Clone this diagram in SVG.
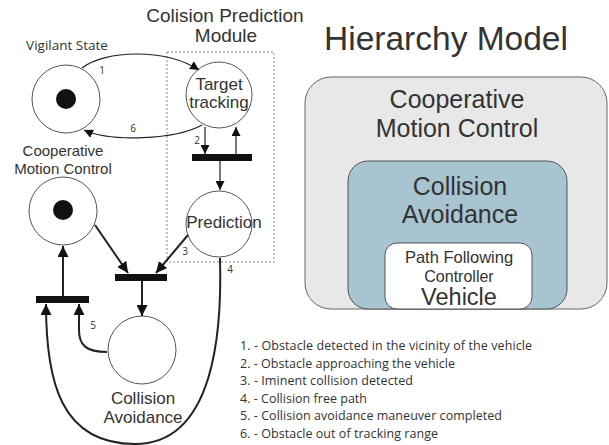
<svg xmlns="http://www.w3.org/2000/svg" width="609" height="445" viewBox="0 0 609 445">
  <style>
    .place { fill: #ffffff; stroke: #555555; stroke-width: 1; }
    .token { fill: #111111; }
    .bar { fill: #111111; }
    .thin { fill: none; stroke: #222222; stroke-width: 1.2; }
    .thick { fill: none; stroke: #222222; stroke-width: 2; }
    .title { font-family: "Liberation Sans", Arial, sans-serif; fill: #333333; text-anchor: middle; }
    .cal { font-family: "Open Sans", "Liberation Sans", sans-serif; fill: #333333; }
    .num { font-family: "Open Sans", "Liberation Sans", sans-serif; fill: #333333; font-size: 10px; text-anchor: middle; }
  </style>
  <defs>
    <marker id="arrow" viewBox="0 0 10 10" refX="10" refY="5" markerWidth="9" markerHeight="9" markerUnits="userSpaceOnUse" orient="auto">
      <path d="M0,0 L10,5 L0,10 z" fill="#111111"/>
    </marker>
    <marker id="arrowBig" viewBox="0 0 10 10" refX="10" refY="5" markerWidth="11" markerHeight="11" markerUnits="userSpaceOnUse" orient="auto">
      <path d="M0,0 L10,5 L0,10 z" fill="#111111"/>
    </marker>
  </defs>

  <rect width="609" height="445" fill="#ffffff"/>

  <!-- Collision prediction module frame -->
  <g id="prediction-module">
    <rect x="167" y="52" width="107" height="210" fill="none" stroke="#888888" stroke-width="1" stroke-dasharray="2,2"/>
    <text class="title" x="225" y="22" font-size="19">Colision Prediction</text>
    <text class="title" x="226" y="42" font-size="19">Module</text>
  </g>

  <!-- Places -->
  <g id="vigilant-state">
    <circle class="place" cx="66" cy="99" r="34"/>
    <circle class="token" cx="66" cy="99" r="10"/>
    <text class="cal" x="67" y="50" font-size="13.5" text-anchor="middle">Vigilant State</text>
  </g>

  <g id="target-tracking">
    <circle class="place" cx="219" cy="95" r="33"/>
    <text class="title" x="219" y="90" font-size="17">Target</text>
    <text class="title" x="219" y="108" font-size="17">tracking</text>
  </g>

  <g id="cooperative-motion-control">
    <circle class="place" cx="63" cy="211" r="34"/>
    <circle class="token" cx="63" cy="210" r="10"/>
    <text class="title" x="63" y="156" font-size="15">Cooperative</text>
    <text class="title" x="63" y="174" font-size="15">Motion Control</text>
  </g>

  <g id="prediction">
    <circle class="place" cx="219" cy="224" r="33"/>
    <text class="title" x="224" y="228" font-size="17">Prediction</text>
  </g>

  <g id="collision-avoidance">
    <circle class="place" cx="142" cy="350" r="34"/>
    <text class="title" x="143" y="404" font-size="17">Collision</text>
    <text class="title" x="143" y="423" font-size="17">Avoidance</text>
  </g>

  <!-- Transitions -->
  <g id="t-tracking">
    <rect class="bar" x="192" y="154" width="60" height="7"/>
  </g>
  <g id="t-avoid">
    <rect class="bar" x="115" y="274" width="52" height="7"/>
  </g>
  <g id="t-return">
    <rect class="bar" x="36" y="296" width="53" height="7"/>
  </g>

  <!-- Connectors -->
  <g id="connectors">
    <path class="thin" d="M82,68 C105,50 165,48 199,70" marker-end="url(#arrow)"/>
    <path class="thin" d="M202,125 C175,140 110,142 84,130" marker-end="url(#arrow)"/>
    <path class="thin" d="M205,127 L205,154" marker-end="url(#arrow)"/>
    <path class="thin" d="M236,154 L236,127" marker-end="url(#arrow)"/>
    <path class="thin" d="M220,161 L220,190" stroke="#555555" marker-end="url(#arrow)"/>

    <path class="thick" d="M95,225 L128,273" marker-end="url(#arrowBig)"/>
    <path class="thick" d="M188,235 L156,273" marker-end="url(#arrowBig)"/>
    <path class="thick" d="M142,281 L142,316" marker-end="url(#arrowBig)"/>
    <path class="thick" d="M63,296 L63,246" marker-end="url(#arrowBig)"/>
    <path class="thick" d="M107,352 C86,352 79,345 79,330 L79,304" marker-end="url(#arrowBig)"/>
    <path class="thick" d="M220,258 C222,330 215,444 135,444 C60,444 46,380 46,304" marker-end="url(#arrowBig)"/>

    <text class="num" x="102" y="74">1</text>
    <text class="num" x="197" y="144">2</text>
    <text class="num" x="185" y="255">3</text>
    <text class="num" x="230" y="273">4</text>
    <text class="num" x="93" y="329">5</text>
    <text class="num" x="133" y="132">6</text>
  </g>

  <!-- Legend -->
  <g id="legend" class="cal" font-size="12.5">
    <text x="240" y="350" textLength="292">1. - Obstacle detected in the vicinity of the vehicle</text>
    <text x="240" y="367.5" textLength="215">2. - Obstacle approaching the vehicle</text>
    <text x="240" y="385" textLength="173">3. - Iminent collision detected</text>
    <text x="240" y="402.5" textLength="127">4. - Collision free path</text>
    <text x="240" y="420" textLength="262">5. - Collision avoidance maneuver completed</text>
    <text x="240" y="437.5" textLength="198">6. - Obstacle out of tracking range</text>
  </g>

  <!-- Hierarchy model -->
  <g id="hierarchy-title">
    <text class="title" x="446" y="50" font-size="33.5" fill="#222222">Hierarchy Model</text>
  </g>
  <g id="cmc-layer">
    <rect x="305" y="77" width="302" height="232" rx="26" fill="#e8e8e8" stroke="#666666" stroke-width="1"/>
    <text class="title" x="457" y="108" font-size="25">Cooperative</text>
    <text class="title" x="457" y="137" font-size="25">Motion Control</text>
  </g>
  <g id="ca-layer">
    <rect x="348" y="161" width="219" height="148" rx="20" fill="#a7c4d0" stroke="#555555" stroke-width="1"/>
    <text class="title" x="460" y="195" font-size="25" fill="#222222">Collision</text>
    <text class="title" x="460" y="223" font-size="25" fill="#222222">Avoidance</text>
  </g>
  <g id="pf-layer">
    <rect x="385" y="243" width="147" height="66" rx="12" fill="#ffffff" stroke="#555555" stroke-width="1"/>
    <text class="title" x="459" y="263" font-size="16.5" fill="#222222">Path Following</text>
    <text class="title" x="459" y="282" font-size="16" fill="#222222">Controller</text>
    <text class="title" x="459" y="305" font-size="23.5" fill="#222222">Vehicle</text>
  </g>
</svg>
